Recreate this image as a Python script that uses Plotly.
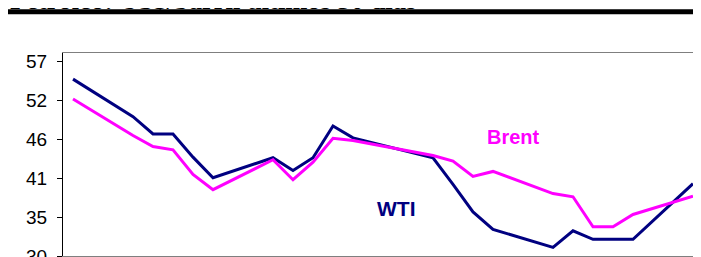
import plotly.graph_objects as go

dates = ["2008-11-28", "2008-12-01", "2008-12-02", "2008-12-03", "2008-12-04", "2008-12-05",
         "2008-12-08", "2008-12-09", "2008-12-10", "2008-12-11", "2008-12-12",
         "2008-12-15", "2008-12-16", "2008-12-17", "2008-12-18", "2008-12-19",
         "2008-12-22", "2008-12-23", "2008-12-24", "2008-12-25", "2008-12-26", "2008-12-29"]
wti = [54.57, 49.36, 46.96, 46.96, 43.73, 40.88,
       43.65, 41.89, 43.65, 48.07, 46.41,
       44.34, 43.65, 39.95, 36.13, 33.69,
       31.20, 33.50, 32.31, 32.31, 32.31, 40.05]
brent = [51.80, 46.73, 45.21, 44.75, 41.34, 39.22,
         43.37, 40.60, 43.04, 46.36, 46.04,
         44.49, 43.96, 43.18, 41.06, 41.75,
         38.67, 38.23, 34.05, 34.05, 35.77, 38.30]
ytick_vals = [30, 35.4, 40.8, 46.2, 51.6, 57]
ytick_text = ["30", "35", "41", "46", "52", "57"]
title_text = "Petróleo: US$/barril últimos 30 dias"

# the page body has an 8px margin, so the figure starts at (8, 8) in the window
OFF = 8
W, H = 701 - OFF, 257 - OFF
ML, MT, MB = 63 - OFF, 52.7 - OFF, 1
plot_h = H - MT - MB
plot_w = W - ML

def py(p):  # window pixel -> paper y
    return (H - MB - (p - OFF)) / plot_h

def px(p):  # window pixel -> paper x
    return (p - OFF - ML) / plot_w

fig = go.Figure()
fig.add_trace(go.Scatter(x=dates, y=wti, mode="lines", name="WTI",
                         line=dict(color="#000080", width=3)))
fig.add_trace(go.Scatter(x=dates, y=brent, mode="lines", name="Brent",
                         line=dict(color="#FF00FF", width=3)))

fig.update_layout(
    width=W, height=H,
    margin=dict(l=ML, r=0, t=MT, b=MB, pad=0, autoexpand=False),
    paper_bgcolor="white", plot_bgcolor="white",
    showlegend=False,
    xaxis=dict(type="date", range=["2008-11-27 12:00", "2008-12-29 09:36"],
               showgrid=False, zeroline=False, showticklabels=False, ticks="",
               automargin=False,
               showline=True, linecolor="#7f7f7f", linewidth=1, mirror=True),
    yaxis=dict(range=[30, 58.2], tickvals=ytick_vals, ticktext=ytick_text,
               automargin=False, ticklabeloverflow="allow", ticklabelstandoff=6,
               showgrid=False, zeroline=False, showline=True, linecolor="black",
               linewidth=1, ticks="outside", ticklen=5, tickcolor="black",
               tickfont=dict(family="Arial", size=19, color="black")),
    shapes=[dict(type="rect", xref="paper", yref="paper",
                 x0=px(5), x1=px(720), y0=py(14), y1=py(9),
                 fillcolor="black", line=dict(width=0))],
    annotations=[
        dict(text="<b>" + title_text + "</b>", xref="paper", yref="paper",
             x=px(8), y=py(17), xanchor="left", yanchor="bottom", showarrow=False,
             font=dict(family="Liberation Serif", size=26.5, color="black")),
        dict(text="<b>WTI</b>", xref="paper", yref="paper", x=px(395.5), y=py(208),
             xanchor="center", yanchor="middle", showarrow=False,
             font=dict(family="Arial", size=21, color="#000080")),
        dict(text="<b>Brent</b>", xref="paper", yref="paper", x=px(513.7), y=py(136.5),
             xanchor="center", yanchor="middle", showarrow=False,
             font=dict(family="Arial", size=20, color="#FF00FF")),
    ],
)
fig.write_html("out.html")
